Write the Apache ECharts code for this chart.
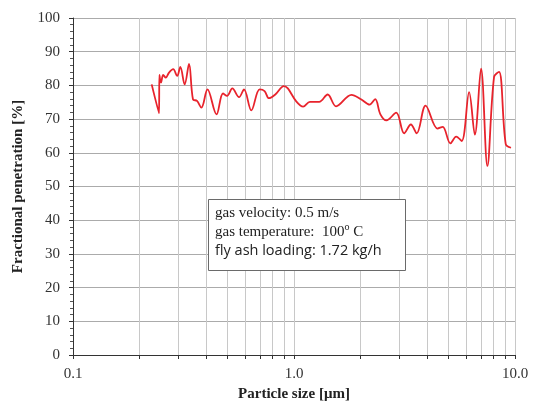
<!DOCTYPE html>
<html>
<head>
<meta charset="utf-8">
<script src="https://cdn.jsdelivr.net/npm/echarts@6/dist/echarts.min.js"></script>
<style>
html,body{margin:0;padding:0;background:#fff;}
#chart{width:533px;height:401px;}
</style>
</head>
<body>
<div id="chart"></div>
<script>
// particle size [um] and fractional penetration [%]
var sizes = [0.227, 0.245, 0.246, 0.250, 0.256, 0.263, 0.272, 0.284, 0.296, 0.306, 0.320, 0.335, 0.349, 0.364, 0.381, 0.406, 0.446, 0.477, 0.498, 0.526, 0.564, 0.594, 0.641, 0.699, 0.736, 0.770, 0.823, 0.900, 0.938, 1.02, 1.10, 1.18, 1.30, 1.42, 1.55, 1.82, 2.01, 2.20, 2.33, 2.46, 2.62, 2.90, 3.15, 3.38, 3.59, 3.94, 4.46, 4.71, 5.10, 5.42, 5.74, 6.20, 6.58, 7.02, 7.50, 8.04, 8.47, 9.08, 9.59];
var penetration = [80.3, 71.7, 83.1, 80.8, 83.1, 82.3, 83.8, 84.8, 82.8, 85.5, 80.3, 86.4, 75.9, 75.4, 73.4, 78.8, 71.4, 77.6, 76.9, 79.1, 76.5, 78.8, 72.6, 78.8, 78.3, 76.2, 77.3, 79.8, 79.1, 75.4, 73.7, 75.1, 75.1, 77.3, 73.8, 77.2, 75.9, 74.3, 75.9, 71.4, 69.6, 71.9, 65.8, 68.4, 65.8, 74.0, 67.2, 67.7, 62.8, 64.8, 63.5, 78.0, 65.4, 85.0, 56.1, 82.5, 84.0, 62.6, 61.5];
// tick / grid positions on the log axis
var xTicks = [0.1, 0.2, 0.3, 0.4, 0.5, 0.6, 0.7, 0.8, 0.9, 1, 2, 3, 4, 5, 6, 7, 8, 9, 10];
var xLabels = [0.1, 1, 10];
var infoLines = ['gas velocity: 0.5 m/s', 'gas temperature:  100', 'fly ash loading: 1.72 kg/h'];

var points = [];
for (var i = 0; i < sizes.length; i++) {
    points.push([sizes[i], penetration[i]]);
}

var chart = echarts.init(document.getElementById('chart'), null, {renderer: 'canvas'});
var serif = '"Liberation Serif", "DejaVu Serif", serif';

var option = {
    backgroundColor: '#ffffff',
    animation: false,
    grid: {left: 73, right: 18, top: 18, bottom: 46, outerBoundsMode: 'none', containLabel: false},
    xAxis: {
        type: 'log',
        logBase: 10,
        min: 0.1,
        max: 10,
        name: 'Particle size [μm]',
        nameLocation: 'middle',
        nameGap: 29,
        nameTextStyle: {fontFamily: serif, fontWeight: 'bold', fontSize: 15, color: '#222'},
        axisLine: {lineStyle: {color: '#333', width: 1}},
        axisTick: {show: true, length: 4, customValues: xTicks, lineStyle: {color: '#333'}},
        axisLabel: {
            customValues: xLabels,
            fontFamily: serif, fontSize: 15, color: '#333', margin: 12,
            formatter: function (v) { return Number(v).toFixed(1); }
        },
        splitLine: {show: true, lineStyle: {color: '#c8c8c8', width: 1}}
    },
    yAxis: {
        type: 'value',
        min: 0,
        max: 100,
        interval: 10,
        name: 'Fractional penetration [%]',
        nameLocation: 'middle',
        nameGap: 47,
        nameTextStyle: {fontFamily: serif, fontWeight: 'bold', fontSize: 15, color: '#222'},
        axisLine: {show: true, lineStyle: {color: '#333', width: 1}},
        axisTick: {show: true, length: 4, lineStyle: {color: '#333'}},
        minorTick: {show: true, splitNumber: 5, length: 3, lineStyle: {color: '#555'}},
        axisLabel: {fontFamily: serif, fontSize: 15, color: '#333', margin: 13},
        splitLine: {show: true, lineStyle: {color: '#ababab', width: 1}}
    },
    graphic: [
        {
            type: 'rect',
            left: 208, top: 199,
            shape: {width: 197, height: 71},
            style: {fill: '#ffffff', stroke: '#6a6a6a', lineWidth: 1},
            z: 100
        },
        {
            type: 'text',
            left: 215, top: 206,
            z: 101,
            style: {
                text: '{a|' + infoLines[0] + '}\n{a|' + infoLines[1] + '}{s|o}{a| C}\n{b|' + infoLines[2] + '}',
                rich: {
                    a: {fontFamily: serif, fontSize: 15, lineHeight: 18.5, fill: '#222'},
                    s: {fontFamily: serif, fontSize: 10, lineHeight: 18.5, fill: '#222', verticalAlign: 'top', padding: [0, 0, 6, 0]},
                    b: {fontFamily: '"Open Sans", "Noto Sans", sans-serif', fontSize: 14.5, lineHeight: 18.5, fill: '#222'}
                }
            }
        }
    ],
    series: [
        {
            type: 'line',
            data: points,
            smooth: 0.35,
            symbol: 'none',
            lineStyle: {color: '#e8232c', width: 1.8},
            z: 3
        }
    ]
};
chart.setOption(option);
</script>
</body>
</html>
